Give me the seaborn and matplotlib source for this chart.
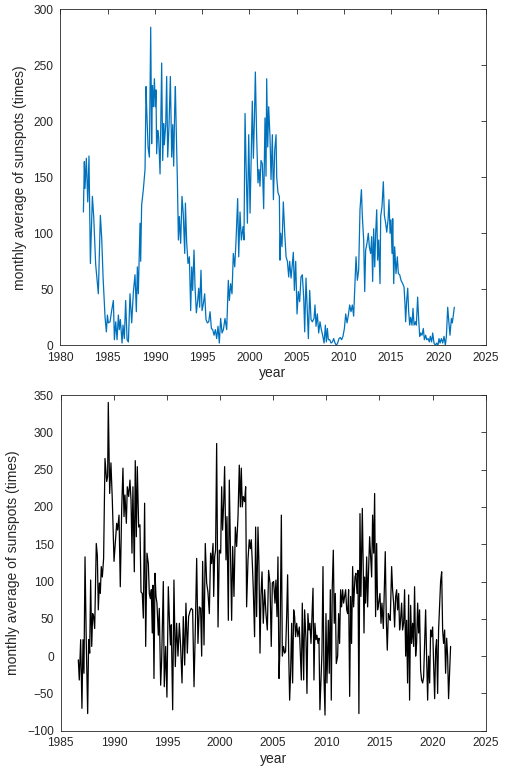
import matplotlib
matplotlib.use("Agg")
import matplotlib.pyplot as plt
import seaborn as sns
import pandas as pd

# ---- top panel: monthly average sunspots (observed) ----
top_year = [
    1982.44, 1982.54, 1982.61, 1982.75, 1982.90, 1983.03, 1983.18, 1983.39, 1983.53, 1983.74,
    1984.02, 1984.235, 1984.38, 1984.52, 1984.73, 1984.87, 1984.98, 1985.08, 1985.26, 1985.43,
    1985.61, 1985.72, 1985.86, 1986.00, 1986.14, 1986.24, 1986.35, 1986.53, 1986.63, 1986.77,
    1986.91, 1987.06, 1987.20, 1987.37, 1987.55, 1987.73, 1987.90, 1988.04, 1988.15, 1988.25,
    1988.43, 1988.50, 1988.60, 1988.78, 1988.96, 1989.07, 1989.14, 1989.28, 1989.42, 1989.56,
    1989.66, 1989.74, 1989.84, 1989.95, 1990.05, 1990.12, 1990.19, 1990.30, 1990.40, 1990.55,
    1990.72, 1990.83, 1990.93, 1991.00, 1991.15, 1991.25, 1991.36, 1991.50, 1991.64, 1991.78,
    1991.89, 1991.99, 1992.10, 1992.17, 1992.24, 1992.38, 1992.49, 1992.59, 1992.73, 1992.87,
    1993.00, 1993.16, 1993.23, 1993.37, 1993.51, 1993.65, 1993.79, 1993.90, 1994.00, 1994.14,
    1994.25, 1994.39, 1994.53, 1994.64, 1994.74, 1994.88, 1994.99, 1995.13, 1995.27, 1995.41,
    1995.55, 1995.70, 1995.84, 1995.98, 1996.12, 1996.26, 1996.40, 1996.54, 1996.68, 1996.82,
    1996.96, 1997.11, 1997.25, 1997.42, 1997.60, 1997.77, 1997.88, 1998.02, 1998.16, 1998.30,
    1998.45, 1998.59, 1998.76, 1998.87, 1999.01, 1999.15, 1999.33, 1999.43, 1999.54, 1999.64,
    1999.79, 1999.93, 2000.07, 2000.21, 2000.31, 2000.42, 2000.53, 2000.63, 2000.77, 2000.91,
    2001.02, 2001.12, 2001.23, 2001.37, 2001.51, 2001.65, 2001.76, 2001.83, 2001.94, 2002.04,
    2002.18, 2002.29, 2002.43, 2002.54, 2002.68, 2002.82, 2002.89, 2003.03, 2003.17, 2003.24,
    2003.31, 2003.45, 2003.59, 2003.74, 2003.88, 2004.02, 2004.16, 2004.26, 2004.41, 2004.55,
    2004.65, 2004.76, 2004.90, 2005.04, 2005.18, 2005.32, 2005.46, 2005.60, 2005.75, 2005.85,
    2005.99, 2006.13, 2006.24, 2006.38, 2006.52, 2006.66, 2006.84, 2006.94, 2007.05, 2007.19,
    2007.33, 2007.47, 2007.61, 2007.75, 2007.90, 2008.04, 2008.14, 2008.25, 2008.35, 2008.50,
    2008.64, 2008.78, 2008.92, 2009.06, 2009.20, 2009.34, 2009.48, 2009.62, 2009.76, 2009.90,
    2010.05, 2010.19, 2010.33, 2010.47, 2010.61, 2010.75, 2010.89, 2011.03, 2011.14, 2011.28,
    2011.42, 2011.56, 2011.70, 2011.85, 2011.95, 2012.09, 2012.20, 2012.30, 2012.44, 2012.58,
    2012.69, 2012.83, 2012.94, 2013.04, 2013.15, 2013.26, 2013.36, 2013.47, 2013.57, 2013.68,
    2013.82, 2013.89, 2014.03, 2014.17, 2014.28, 2014.42, 2014.53, 2014.67, 2014.77, 2014.88,
    2014.98, 2015.09, 2015.16, 2015.27, 2015.37, 2015.51, 2015.65, 2015.76, 2015.90, 2016.04,
    2016.22, 2016.36, 2016.46, 2016.53, 2016.64, 2016.75, 2016.85, 2016.96, 2017.06, 2017.20,
    2017.31, 2017.42, 2017.56, 2017.66, 2017.80, 2017.91, 2018.02, 2018.12, 2018.26, 2018.40,
    2018.51, 2018.65, 2018.76, 2018.90, 2019.04, 2019.14, 2019.28, 2019.39, 2019.53, 2019.67,
    2019.81, 2019.95, 2020.06, 2020.17, 2020.31, 2020.45, 2020.59, 2020.73, 2020.84, 2020.98,
    2021.08, 2021.22, 2021.37, 2021.47, 2021.58, 2021.68,
]
top_value = [
    119, 164, 140, 167, 128, 169, 73, 133, 115, 72,
    46, 116, 95, 61, 25, 12, 27, 20, 21, 31,
    40, 5, 21, 5, 27, 14, 23, 2, 18, 6,
    40, 5, 3, 46, 20, 48, 63, 30, 70, 46,
    109, 75, 125, 139, 157, 231, 210, 177, 168, 284,
    180, 232, 213, 238, 213, 228, 171, 192, 186, 153,
    252, 165, 198, 179, 197, 240, 168, 197, 240, 168,
    197, 160, 212, 231, 201, 148, 94, 115, 91, 133,
    118, 82, 127, 91, 73, 79, 31, 70, 49, 85,
    52, 29, 40, 51, 34, 67, 31, 37, 46, 23,
    20, 21, 30, 15, 14, 9, 14, 6, 17, 2,
    24, 11, 14, 24, 14, 58, 40, 55, 46, 82,
    70, 94, 131, 79, 119, 94, 106, 94, 207, 165,
    109, 188, 118, 174, 218, 167, 201, 244, 186, 145,
    157, 142, 165, 162, 122, 203, 151, 238, 177, 213,
    186, 148, 188, 130, 174, 188, 150, 136, 133, 76,
    100, 88, 128, 100, 79, 75, 61, 75, 60, 73,
    83, 49, 75, 28, 48, 39, 61, 63, 42, 12,
    60, 31, 6, 49, 23, 21, 24, 36, 17, 28,
    11, 21, 14, 9, 2, 18, 3, 15, 5, 5,
    2, 3, 6, 2, 0, 2, 6, 7, 5, 8,
    15, 28, 20, 27, 36, 30, 36, 26, 49, 79,
    58, 67, 121, 139, 115, 94, 48, 85, 91, 100,
    88, 82, 97, 57, 104, 70, 100, 121, 76, 94,
    55, 115, 124, 146, 116, 109, 101, 112, 130, 100,
    112, 82, 113, 55, 88, 64, 79, 64, 63, 58,
    55, 52, 37, 21, 40, 51, 30, 18, 25, 18,
    33, 18, 21, 18, 43, 23, 8, 11, 9, 15,
    5, 9, 5, 6, 3, 8, 3, 11, 2, 0,
    2, 0, 6, 2, 6, 2, 8, 0, 8, 34,
    23, 9, 24, 20, 27, 34,
]

# ---- bottom panel ----
bottom_year = [
    1986.66, 1986.75, 1986.88, 1987.00, 1987.10, 1987.19, 1987.29, 1987.41, 1987.54, 1987.63,
    1987.73, 1987.82, 1987.92, 1988.01, 1988.10, 1988.20, 1988.35, 1988.45, 1988.54, 1988.64,
    1988.73, 1988.82, 1988.92, 1989.04, 1989.17, 1989.33, 1989.42, 1989.48, 1989.61, 1989.73,
    1989.86, 1990.02, 1990.14, 1990.27, 1990.36, 1990.49, 1990.61, 1990.74, 1990.86, 1990.96,
    1991.05, 1991.18, 1991.27, 1991.40, 1991.52, 1991.62, 1991.71, 1991.80, 1991.93, 1992.02,
    1992.12, 1992.21, 1992.34, 1992.46, 1992.56, 1992.68, 1992.78, 1992.90, 1993.00, 1993.12,
    1993.25, 1993.34, 1993.44, 1993.53, 1993.62, 1993.69, 1993.78, 1993.88, 1993.97, 1994.06,
    1994.19, 1994.28, 1994.41, 1994.50, 1994.66, 1994.75, 1994.88, 1995.00, 1995.13, 1995.25,
    1995.33, 1995.41, 1995.54, 1995.66, 1995.79, 1995.91, 1996.04, 1996.17, 1996.29, 1996.42,
    1996.54, 1996.67, 1996.79, 1996.92, 1997.04, 1997.17, 1997.29, 1997.42, 1997.55, 1997.67,
    1997.80, 1997.92, 1998.05, 1998.17, 1998.27, 1998.36, 1998.49, 1998.61, 1998.74, 1998.86,
    1998.99, 1999.11, 1999.21, 1999.34, 1999.40, 1999.49, 1999.58, 1999.68, 1999.81, 1999.93,
    2000.06, 2000.15, 2000.24, 2000.34, 2000.43, 2000.56, 2000.65, 2000.78, 2000.87, 2000.99,
    2001.09, 2001.19, 2001.31, 2001.44, 2001.56, 2001.69, 2001.81, 2001.91, 2002.00, 2002.09,
    2002.19, 2002.31, 2002.41, 2002.50, 2002.63, 2002.75, 2002.85, 2002.94, 2003.04, 2003.13,
    2003.25, 2003.35, 2003.44, 2003.57, 2003.66, 2003.76, 2003.85, 2003.95, 2004.07, 2004.20,
    2004.32, 2004.45, 2004.57, 2004.70, 2004.82, 2004.92, 2005.04, 2005.17, 2005.26, 2005.36,
    2005.45, 2005.55, 2005.64, 2005.77, 2005.86, 2005.98, 2006.08, 2006.17, 2006.27, 2006.36,
    2006.46, 2006.55, 2006.64, 2006.74, 2006.83, 2006.93, 2007.02, 2007.11, 2007.21, 2007.33,
    2007.46, 2007.55, 2007.65, 2007.74, 2007.87, 2007.96, 2008.09, 2008.18, 2008.27, 2008.37,
    2008.46, 2008.56, 2008.65, 2008.75, 2008.84, 2008.93, 2009.03, 2009.12, 2009.22, 2009.31,
    2009.40, 2009.50, 2009.59, 2009.69, 2009.78, 2009.88, 2009.97, 2010.06, 2010.19, 2010.28,
    2010.38, 2010.47, 2010.56, 2010.66, 2010.75, 2010.85, 2010.94, 2011.07, 2011.16, 2011.25,
    2011.35, 2011.44, 2011.54, 2011.63, 2011.73, 2011.82, 2011.92, 2012.01, 2012.10, 2012.20,
    2012.29, 2012.38, 2012.48, 2012.57, 2012.70, 2012.79, 2012.89, 2012.98, 2013.07, 2013.17,
    2013.26, 2013.39, 2013.48, 2013.55, 2013.61, 2013.70, 2013.80, 2013.89, 2013.98, 2014.08,
    2014.17, 2014.27, 2014.36, 2014.46, 2014.55, 2014.64, 2014.74, 2014.83, 2014.93, 2015.05,
    2015.15, 2015.24, 2015.37, 2015.46, 2015.55, 2015.65, 2015.74, 2015.84, 2015.93, 2016.02,
    2016.15, 2016.24, 2016.34, 2016.43, 2016.53, 2016.62, 2016.71, 2016.81, 2016.90, 2016.99,
    2017.09, 2017.18, 2017.28, 2017.37, 2017.47, 2017.56, 2017.65, 2017.75, 2017.84, 2017.94,
    2018.03, 2018.13, 2018.22, 2018.31, 2018.41, 2018.50, 2018.60, 2018.69, 2018.78, 2018.88,
    2018.97, 2019.07, 2019.16, 2019.26, 2019.35, 2019.44, 2019.54, 2019.63, 2019.73, 2019.82,
    2019.91, 2020.01, 2020.10, 2020.20, 2020.29, 2020.38, 2020.48, 2020.57, 2020.67, 2020.76,
    2020.86, 2020.95, 2021.04, 2021.14, 2021.23, 2021.33, 2021.42, 2021.51, 2021.61, 2021.70,
]
bottom_value = [
    -5, -32, 22, -70, 22, -23, 133, 17, -77, 22,
    4, 102, 13, 57, 53, 37, 151, 135, 62, 98,
    84, 120, 106, 131, 265, 234, 241, 340, 218, 259,
    209, 127, 151, 178, 169, 189, 93, 196, 252, 187,
    216, 178, 227, 214, 236, 209, 138, 227, 113, 262,
    160, 254, 173, 176, 86, 84, 51, 205, 13, 138,
    124, 84, 77, 89, 31, 95, -30, 111, 80, 71,
    28, 64, -39, -7, 100, -41, 13, -55, 93, 42,
    15, 42, -72, 102, -14, 44, 0, 44, 13, -36,
    53, -12, 71, 4, 53, 60, 64, 62, -41, 35,
    131, 17, 66, 64, 0, 127, 15, 151, 98, 86,
    57, 138, 124, 151, 80, 133, 142, 285, 39, 142,
    138, 227, 169, 205, 254, 129, 187, 48, 236, 133,
    48, 147, 80, 173, 147, 187, 256, 200, 252, 200,
    214, 207, 227, 66, 129, 156, 144, 156, 124, 89,
    26, 173, 53, 173, 124, 4, 80, 113, 44, 89,
    57, 35, 115, 98, 13, 98, 100, 71, 102, 53,
    133, -30, 13, 189, 0, 13, 4, 6, 53, 109,
    4, -59, -23, 44, -36, 62, 53, 26, 44, 26,
    39, 4, -32, 71, -32, 62, 22, -50, 57, 35,
    44, 17, 53, 91, -32, 44, 22, 28, 17, 24,
    -72, -32, 4, 120, -28, -79, 57, -36, 48, -23,
    89, -59, 91, 142, 44, 84, -10, 0, 57, 17,
    89, 66, 89, 71, 80, 89, 62, 57, 89, -54,
    80, 17, 120, 66, 106, 111, 84, 115, -77, 191,
    80, 198, 115, 31, 106, 71, 133, 66, 115, 160,
    133, 106, 189, 138, 218, 53, 151, 62, 71, 84,
    44, 71, 37, 89, 140, 48, 8, 57, 53, 48,
    120, 89, 71, 39, 80, 89, 62, 84, 35, 48,
    71, 35, 44, 89, 0, 48, -36, 82, -59, 68,
    17, 44, 13, 93, 0, 17, 71, 31, 62, -19,
    -32, -36, -28, 17, 62, 0, -59, 0, -36, 35,
    26, 39, -10, -57, 8, 22, -50, 35, 71, 100,
    113, 35, 17, 35, -23, 24, 0, -57, -19, 13,
]

x_label = "year"
y_label = "monthly average of sunspots (times)"
top_xticks = [1980, 1985, 1990, 1995, 2000, 2005, 2010, 2015, 2020, 2025]
top_yticks = [0, 50, 100, 150, 200, 250, 300]
bottom_xticks = [1985, 1990, 1995, 2000, 2005, 2010, 2015, 2020, 2025]
bottom_yticks = [-100, -50, 0, 50, 100, 150, 200, 250, 300, 350]

sns.set_style("white")
plt.rcParams["font.family"] = ["Liberation Sans", "DejaVu Sans"]

axis_color = "#262626"
fig = plt.figure(figsize=(5.07, 7.73), dpi=100)
ax1 = fig.add_axes([0.119, 0.5533, 0.839, 0.4347])
ax2 = fig.add_axes([0.1197, 0.0547, 0.8382, 0.4343])

df_top = pd.DataFrame({"year": top_year, "value": top_value})
df_bot = pd.DataFrame({"year": bottom_year, "value": bottom_value})

sns.lineplot(data=df_top, x="year", y="value", ax=ax1, color="#0072BD",
             linewidth=0.9, estimator=None, sort=False)
sns.lineplot(data=df_bot, x="year", y="value", ax=ax2, color="black",
             linewidth=0.9, estimator=None, sort=False)

for ax, xt, yt in [(ax1, top_xticks, top_yticks), (ax2, bottom_xticks, bottom_yticks)]:
    ax.set_xlim(xt[0], xt[-1])
    ax.set_ylim(yt[0], yt[-1])
    ax.set_xticks(xt)
    ax.set_yticks(yt)
    ax.set_xlabel(x_label, fontsize=10, color=axis_color, labelpad=2)
    ax.set_ylabel(y_label, fontsize=10, color=axis_color, labelpad=5)
    ax.tick_params(axis="both", direction="in", top=True, right=True, length=3.5,
                   width=0.6, labelsize=8.6, colors=axis_color)
    ax.tick_params(axis="x", pad=4.5)
    ax.tick_params(axis="y", pad=5)
    for s in ax.spines.values():
        s.set_visible(True)
        s.set_color(axis_color)
        s.set_linewidth(0.6)
    ax.grid(False)

fig.savefig("out.png", dpi=100)
